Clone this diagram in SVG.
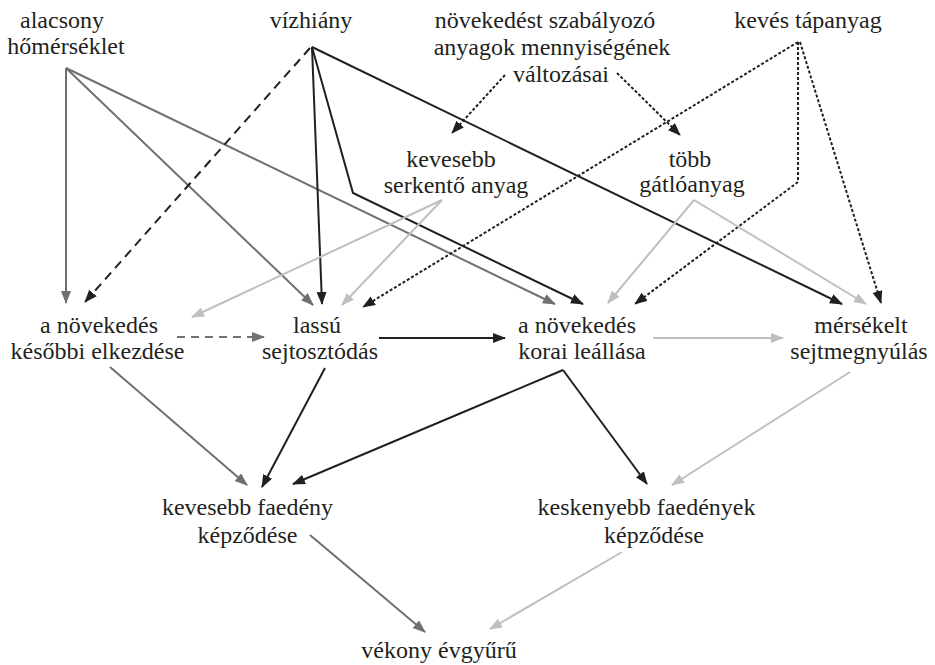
<svg xmlns="http://www.w3.org/2000/svg" width="935" height="665" viewBox="0 0 935 665">
<defs>
<marker id="ak" markerUnits="userSpaceOnUse" markerWidth="14" markerHeight="11" refX="12" refY="5" orient="auto"><path d="M0,0 L13,5 L0,10 z" fill="#231f20"/></marker>
<marker id="ag" markerUnits="userSpaceOnUse" markerWidth="14" markerHeight="11" refX="12" refY="5" orient="auto"><path d="M0,0 L13,5 L0,10 z" fill="#707070"/></marker>
<marker id="al" markerUnits="userSpaceOnUse" markerWidth="14" markerHeight="11" refX="12" refY="5" orient="auto"><path d="M0,0 L13,5 L0,10 z" fill="#bfbfbf"/></marker>
</defs>
<style>
text{font-family:"Times New Roman","Liberation Serif",serif;font-size:24px;fill:#231f20;text-anchor:middle}
.k{stroke:#231f20;stroke-width:2;fill:none;marker-end:url(#ak)}
.kd{stroke:#231f20;stroke-width:2;fill:none;stroke-dasharray:9 6;marker-end:url(#ak)}
.kp{stroke:#231f20;stroke-width:2;fill:none;stroke-dasharray:3 2;marker-end:url(#ak)}
.g{stroke:#707070;stroke-width:2;fill:none;marker-end:url(#ag)}
.gd{stroke:#707070;stroke-width:2;fill:none;stroke-dasharray:8 6;marker-end:url(#ag)}
.l{stroke:#bfbfbf;stroke-width:2;fill:none;marker-end:url(#al)}
</style>
<rect width="935" height="665" fill="#fff"/>
<g id="connectors">
<path class="g" d="M66,68 L66,303"/>
<path class="g" d="M66,68 L313,305"/>
<path class="g" d="M66,68 L555,304"/>
<path class="gd" d="M177,337 L264,337"/>
<path class="g" d="M110,367 L247,485"/>
<path class="g" d="M310,535 L425,632"/>
<path class="k" d="M312,47 L322,304"/>
<path class="k" d="M312,47 L353,193 L583,304"/>
<path class="k" d="M312,47 L842,304"/>
<path class="k" d="M379,338 L505,338"/>
<path class="k" d="M325,368 L262,487"/>
<path class="k" d="M563,370 L293,484"/>
<path class="k" d="M563,370 L647,484"/>
<path class="kd" d="M310,48 L85,302"/>
<path class="kp" d="M505,75 L452,133"/>
<path class="kp" d="M617,73 L680,135"/>
<path class="kp" d="M798,42 L363,307"/>
<path class="kp" d="M798,42 L798,182 L635,304"/>
<path class="kp" d="M800,42 L881,303"/>
<path class="l" d="M442,200 L192,317"/>
<path class="l" d="M442,200 L342,305"/>
<path class="l" d="M694,200 L608,303"/>
<path class="l" d="M694,200 L866,304"/>
<path class="l" d="M653,338 L783,338"/>
<path class="l" d="M850,372 L672,485"/>
<path class="l" d="M622,552 L490,629"/>
</g>
<g id="n-alacsony"><text x="62" y="28">alacsony</text><text x="66" y="54">hőmérséklet</text></g>
<g id="n-vizhiany"><text x="311" y="28">vízhiány</text></g>
<g id="n-novekedest"><text x="545" y="28">növekedést szabályozó</text><text x="552" y="55">anyagok mennyiségének</text><text x="561" y="82">változásai</text></g>
<g id="n-keves"><text x="808" y="28">kevés tápanyag</text></g>
<g id="n-serkento"><text x="451" y="167">kevesebb</text><text x="456" y="193">serkentő anyag</text></g>
<g id="n-gatlo"><text x="690" y="167">több</text><text x="692" y="192">gátlóanyag</text></g>
<g id="n-kesobbi"><text x="99" y="333">a növekedés</text><text x="97.5" y="359">későbbi elkezdése</text></g>
<g id="n-lassu"><text x="317" y="333">lassú</text><text x="320" y="359">sejtosztódás</text></g>
<g id="n-korai"><text x="577" y="333">a növekedés</text><text x="582" y="359">korai leállása</text></g>
<g id="n-mersekelt"><text x="861" y="333">mérsékelt</text><text x="859" y="359">sejtmegnyúlás</text></g>
<g id="n-faedeny"><text x="247.5" y="515">kevesebb faedény</text><text x="247.5" y="543">képződése</text></g>
<g id="n-keskenyebb"><text x="646.5" y="515">keskenyebb faedények</text><text x="654" y="543">képződése</text></g>
<g id="n-vekony"><text x="439" y="658">vékony évgyűrű</text></g>
</svg>
